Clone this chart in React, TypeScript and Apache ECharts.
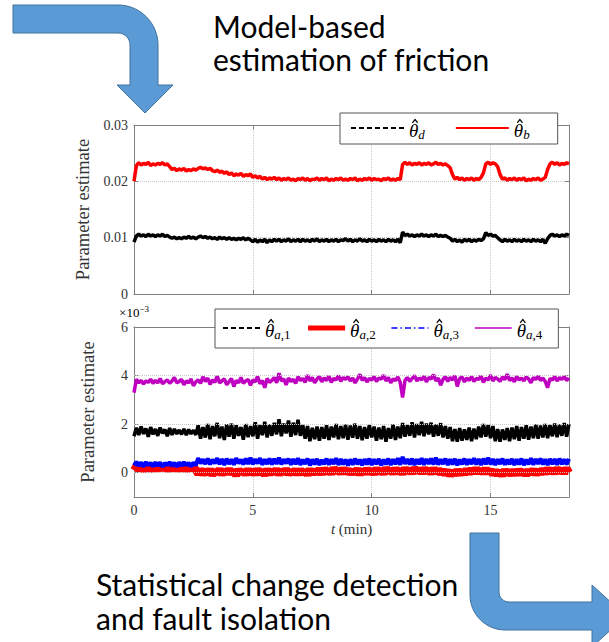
import React, { useEffect, useRef } from 'react';
import * as echarts from 'echarts';

// sampling step of the time axis (min) and axis ranges
const T_STEP = 0.1;
const T_MAX = 18.3;
const Y1_MIN = 0;
const Y1_MAX = 0.03;
const Y1_STEP = 0.01;
const Y2_MIN = -1;
const Y2_MAX = 6;
const Y2_TICKS = [0, 2, 4, 6];
const Y2_GRID = [0, 2, 4];
const X_STEP = 5;

// upper panel: θd (black) and θb (red)
const THETA_B = [
  0.0200, 0.0228, 0.0233, 0.0229, 0.0232, 0.0230, 0.0234, 0.0228, 0.0231, 0.0229,
  0.0232, 0.0230, 0.0233, 0.0229, 0.0231, 0.0226, 0.0221, 0.0223, 0.0219, 0.0222,
  0.0220, 0.0223, 0.0218, 0.0221, 0.0219, 0.0222, 0.0220, 0.0223, 0.0225, 0.0222,
  0.0224, 0.0221, 0.0223, 0.0219, 0.0217, 0.0220, 0.0216, 0.0218, 0.0214, 0.0217,
  0.0212, 0.0215, 0.0210, 0.0213, 0.0211, 0.0214, 0.0209, 0.0212, 0.0210, 0.0213,
  0.0207, 0.0210, 0.0206, 0.0209, 0.0204, 0.0207, 0.0203, 0.0206, 0.0204, 0.0207,
  0.0203, 0.0206, 0.0202, 0.0205, 0.0203, 0.0206, 0.0202, 0.0204, 0.0201, 0.0205,
  0.0203, 0.0206, 0.0202, 0.0205, 0.0201, 0.0204, 0.0203, 0.0206, 0.0202, 0.0205,
  0.0203, 0.0206, 0.0201, 0.0204, 0.0202, 0.0205, 0.0203, 0.0206, 0.0202, 0.0204,
  0.0202, 0.0205, 0.0203, 0.0206, 0.0201, 0.0204, 0.0202, 0.0205, 0.0203, 0.0206,
  0.0202, 0.0205, 0.0203, 0.0204, 0.0201, 0.0205, 0.0203, 0.0206, 0.0202, 0.0204,
  0.0202, 0.0205, 0.0203, 0.0230, 0.0234, 0.0230, 0.0233, 0.0229, 0.0232, 0.0230,
  0.0233, 0.0229, 0.0232, 0.0230, 0.0233, 0.0229, 0.0231, 0.0234, 0.0230, 0.0232,
  0.0229, 0.0231, 0.0228, 0.0224, 0.0212, 0.0204, 0.0207, 0.0203, 0.0206, 0.0202,
  0.0205, 0.0203, 0.0206, 0.0202, 0.0205, 0.0203, 0.0207, 0.0215, 0.0231, 0.0234,
  0.0230, 0.0233, 0.0231, 0.0226, 0.0212, 0.0204, 0.0206, 0.0202, 0.0205, 0.0203,
  0.0206, 0.0202, 0.0205, 0.0203, 0.0206, 0.0201, 0.0204, 0.0202, 0.0205, 0.0203,
  0.0206, 0.0202, 0.0204, 0.0207, 0.0221, 0.0231, 0.0234, 0.0230, 0.0233, 0.0229,
  0.0232, 0.0230, 0.0233, 0.0231,
];

const THETA_D = [
  0.0092, 0.0103, 0.0106, 0.0103, 0.0105, 0.0102, 0.0106, 0.0103, 0.0105, 0.0102,
  0.0105, 0.0103, 0.0106, 0.0102, 0.0104, 0.0101, 0.0099, 0.0101, 0.0098, 0.0100,
  0.0098, 0.0101, 0.0099, 0.0102, 0.0099, 0.0101, 0.0098, 0.0101, 0.0103, 0.0100,
  0.0102, 0.0099, 0.0101, 0.0098, 0.0100, 0.0097, 0.0101, 0.0098, 0.0100, 0.0097,
  0.0100, 0.0097, 0.0099, 0.0096, 0.0099, 0.0097, 0.0100, 0.0096, 0.0099, 0.0096,
  0.0093, 0.0097, 0.0092, 0.0096, 0.0093, 0.0097, 0.0091, 0.0096, 0.0093, 0.0097,
  0.0094, 0.0097, 0.0093, 0.0096, 0.0094, 0.0098, 0.0093, 0.0096, 0.0094, 0.0097,
  0.0093, 0.0097, 0.0094, 0.0096, 0.0093, 0.0097, 0.0094, 0.0098, 0.0093, 0.0096,
  0.0094, 0.0097, 0.0093, 0.0096, 0.0094, 0.0097, 0.0093, 0.0096, 0.0095, 0.0098,
  0.0094, 0.0097, 0.0093, 0.0096, 0.0094, 0.0098, 0.0094, 0.0096, 0.0093, 0.0097,
  0.0094, 0.0096, 0.0093, 0.0097, 0.0094, 0.0096, 0.0093, 0.0097, 0.0094, 0.0096,
  0.0093, 0.0097, 0.0091, 0.0110, 0.0104, 0.0106, 0.0103, 0.0105, 0.0102, 0.0105,
  0.0103, 0.0106, 0.0103, 0.0105, 0.0102, 0.0105, 0.0103, 0.0106, 0.0102, 0.0104,
  0.0102, 0.0104, 0.0101, 0.0099, 0.0094, 0.0097, 0.0093, 0.0096, 0.0092, 0.0097,
  0.0094, 0.0097, 0.0093, 0.0096, 0.0094, 0.0097, 0.0095, 0.0098, 0.0109, 0.0104,
  0.0106, 0.0103, 0.0104, 0.0100, 0.0096, 0.0093, 0.0097, 0.0094, 0.0096, 0.0093,
  0.0097, 0.0094, 0.0096, 0.0093, 0.0097, 0.0094, 0.0096, 0.0093, 0.0097, 0.0094,
  0.0096, 0.0093, 0.0097, 0.0090, 0.0098, 0.0104, 0.0106, 0.0103, 0.0105, 0.0102,
  0.0105, 0.0103, 0.0106, 0.0104,
];

// lower panel (×10^-3)
const THETA_A1 = [
  1.50, 1.85, 1.55, 1.90, 1.60, 1.82, 1.48, 1.88, 1.58, 1.80,
  1.52, 1.86, 1.62, 1.78, 1.50, 1.84, 1.56, 1.80, 1.60, 1.76,
  1.58, 1.80, 1.55, 1.78, 1.60, 1.75, 1.56, 1.95, 1.40, 1.88,
  1.45, 2.00, 1.38, 1.92, 1.50, 2.05, 1.42, 1.90, 1.35, 1.98,
  1.48, 2.02, 1.40, 1.95, 1.52, 1.88, 1.36, 2.00, 1.46, 1.92,
  1.50, 2.08, 1.40, 1.96, 1.55, 2.10, 1.45, 1.98, 1.52, 2.05,
  1.58, 2.20, 1.50, 2.02, 1.62, 2.15, 1.48, 2.06, 1.55, 2.18,
  1.52, 1.96, 1.40, 1.92, 1.30, 1.85, 1.38, 1.90, 1.32, 1.88,
  1.40, 1.95, 1.35, 1.90, 1.45, 2.00, 1.38, 1.92, 1.42, 1.98,
  1.36, 1.94, 1.44, 2.02, 1.40, 1.92, 1.34, 1.88, 1.40, 1.96,
  1.45, 1.90, 1.32, 1.86, 1.38, 1.92, 1.28, 1.84, 1.40, 1.98,
  1.35, 1.90, 1.42, 2.05, 1.48, 1.96, 1.52, 2.08, 1.45, 2.00,
  1.55, 2.10, 1.50, 2.02, 1.58, 2.06, 1.48, 1.98, 1.52, 2.04,
  1.45, 1.92, 1.40, 1.88, 1.30, 1.80, 1.28, 1.84, 1.32, 1.78,
  1.35, 1.86, 1.30, 1.82, 1.38, 1.90, 1.45, 2.00, 1.48, 1.96,
  1.42, 1.92, 1.30, 1.80, 1.28, 1.78, 1.35, 1.84, 1.30, 1.86,
  1.38, 1.92, 1.32, 1.88, 1.40, 1.95, 1.36, 1.90, 1.42, 1.98,
  1.40, 1.94, 1.45, 2.00, 1.42, 1.96, 1.50, 2.02, 1.46, 1.98,
  1.52, 2.04, 1.48, 2.00,
];

const THETA_A2 = [
  0.10, 0.26, 0.12, 0.24, 0.08, 0.25, 0.14, 0.22, 0.10, 0.26,
  0.12, 0.24, 0.15, 0.28, 0.10, 0.22, 0.14, 0.26, 0.11, 0.24,
  0.13, 0.25, 0.10, 0.22, 0.14, 0.26, 0.12, -0.05, 0.15, -0.08,
  0.12, -0.06, 0.14, -0.10, 0.10, -0.04, 0.15, -0.08, 0.12, -0.05,
  0.16, -0.06, 0.12, -0.12, 0.14, -0.04, 0.10, -0.08, 0.15, -0.06,
  0.12, -0.08, 0.15, -0.05, 0.10, -0.10, 0.14, -0.06, 0.11, -0.04,
  0.15, -0.08, 0.12, -0.05, 0.16, -0.07, 0.10, -0.04, 0.13, -0.08,
  0.14, -0.05, 0.11, -0.09, 0.15, -0.06, 0.12, -0.04, 0.16, -0.07,
  0.18, -0.02, 0.15, -0.05, 0.20, 0.00, 0.16, -0.04, 0.18, -0.02,
  0.15, -0.06, 0.12, -0.04, 0.16, -0.08, 0.13, -0.05, 0.17, -0.03,
  0.14, -0.06, 0.18, -0.02, 0.15, -0.05, 0.20, 0.00, 0.16, -0.04,
  0.18, -0.02, 0.15, -0.05, 0.19, 0.00, 0.16, -0.03, 0.20, 0.01,
  0.17, -0.02, 0.19, 0.00, 0.16, -0.04, 0.18, -0.01, 0.15, -0.05,
  0.12, -0.08, 0.10, -0.12, 0.08, -0.10, 0.12, -0.08, 0.10, -0.06,
  0.14, -0.04, 0.16, -0.02, 0.18, 0.00, 0.15, -0.03, 0.17, -0.02,
  0.12, -0.08, 0.10, -0.10, 0.08, -0.12, 0.12, -0.08, 0.10, -0.10,
  0.11, -0.09, 0.13, -0.07, 0.10, -0.11, 0.12, -0.06, 0.14, -0.08,
  0.12, -0.05, 0.15, -0.04, 0.18, -0.02, 0.16, -0.03, 0.19, 0.00,
  0.16, -0.02, 0.18, 0.00,
];

const THETA_A3 = [
  0.30, 0.45, 0.28, 0.42, 0.25, 0.44, 0.30, 0.40, 0.26, 0.43,
  0.28, 0.42, 0.24, 0.40, 0.30, 0.44, 0.27, 0.41, 0.25, 0.42,
  0.28, 0.44, 0.30, 0.40, 0.26, 0.42, 0.30, 0.60, 0.38, 0.55,
  0.36, 0.58, 0.34, 0.54, 0.38, 0.60, 0.35, 0.56, 0.32, 0.58,
  0.36, 0.55, 0.33, 0.60, 0.38, 0.54, 0.34, 0.58, 0.36, 0.62,
  0.35, 0.56, 0.38, 0.60, 0.33, 0.55, 0.36, 0.58, 0.34, 0.57,
  0.36, 0.62, 0.34, 0.55, 0.38, 0.58, 0.33, 0.56, 0.35, 0.60,
  0.32, 0.54, 0.36, 0.58, 0.30, 0.55, 0.34, 0.57, 0.32, 0.53,
  0.35, 0.58, 0.33, 0.55, 0.36, 0.60, 0.32, 0.56, 0.34, 0.54,
  0.30, 0.55, 0.33, 0.58, 0.35, 0.54, 0.31, 0.56, 0.34, 0.58,
  0.32, 0.55, 0.35, 0.57, 0.30, 0.54, 0.34, 0.58, 0.32, 0.55,
  0.35, 0.60, 0.33, 0.65, 0.36, 0.56, 0.34, 0.58, 0.32, 0.55,
  0.35, 0.60, 0.33, 0.56, 0.36, 0.58, 0.34, 0.62, 0.33, 0.55,
  0.36, 0.58, 0.32, 0.55, 0.34, 0.57, 0.31, 0.54, 0.35, 0.58,
  0.33, 0.55, 0.36, 0.60, 0.34, 0.56, 0.32, 0.58, 0.35, 0.62,
  0.34, 0.56, 0.32, 0.55, 0.36, 0.58, 0.33, 0.54, 0.35, 0.57,
  0.32, 0.55, 0.34, 0.58, 0.31, 0.54, 0.35, 0.60, 0.33, 0.56,
  0.36, 0.58, 0.34, 0.55, 0.32, 0.57, 0.35, 0.56, 0.33, 0.58,
  0.35, 0.55, 0.34, 0.57,
];

const THETA_A4 = [
  3.30, 3.85, 3.70, 3.80, 3.65, 3.78, 3.72, 3.85, 3.68, 3.80,
  3.70, 3.88, 3.66, 3.75, 3.82, 3.68, 3.78, 3.92, 3.70, 3.76,
  3.84, 3.62, 3.78, 3.70, 3.86, 3.58, 3.74, 3.82, 3.68, 3.95,
  3.76, 3.90, 3.64, 3.82, 3.72, 3.98, 3.70, 3.78, 3.86, 3.62,
  3.75, 3.88, 3.55, 3.80, 3.70, 3.92, 3.68, 3.78, 3.84, 3.60,
  3.82, 3.74, 3.96, 3.66, 3.80, 3.50, 3.88, 3.72, 3.80, 3.92,
  3.70, 4.10, 3.78, 3.86, 3.62, 3.90, 3.76, 3.84, 3.68, 3.95,
  3.80, 3.88, 3.72, 4.02, 3.78, 3.92, 3.70, 3.86, 3.96, 3.74,
  3.90, 3.80, 3.98, 3.72, 3.88, 3.82, 4.00, 3.76, 3.92, 3.84,
  3.95, 3.78, 3.90, 3.70, 3.86, 4.05, 3.80, 3.92, 3.74, 3.88,
  3.82, 3.96, 3.76, 3.90, 3.85, 4.02, 3.78, 3.92, 3.70, 3.86,
  3.80, 3.94, 3.72, 3.10, 3.80, 3.92, 3.76, 3.88, 4.00, 3.78,
  3.90, 3.82, 3.98, 3.74, 3.92, 3.86, 4.04, 3.78, 3.90, 3.60,
  3.84, 3.96, 3.76, 3.92, 3.82, 4.00, 3.55, 3.88, 3.94, 3.74,
  3.90, 3.80, 3.96, 3.76, 3.88, 3.84, 3.98, 3.72, 3.90, 3.82,
  4.02, 3.78, 3.92, 3.86, 3.76, 3.94, 3.84, 4.06, 3.80, 3.90,
  3.74, 3.96, 3.82, 3.90, 3.78, 3.94, 3.86, 3.70, 3.92, 3.84,
  3.98, 3.80, 3.90, 3.76, 3.50, 3.88, 3.82, 3.96, 3.78, 3.92,
  3.84, 3.96, 3.80, 3.90,
];

// θ carries its hat as the token's background picture
const LEGEND_LABELS: Record<string, string> = {
  thd: '{t|θ}{s|d}',
  thb: '{t|θ}{s|b}',
  tha1: '{t|θ}{s|a}{n|,1}',
  tha2: '{t|θ}{s|a}{n|,2}',
  tha3: '{t|θ}{s|a}{n|,3}',
  tha4: '{t|θ}{s|a}{n|,4}',
};

const TOP_TEXT = 'Model-based\nestimation of friction';
const BOTTOM_TEXT = 'Statistical change detection\nand fault isolation';

const ARROW_TL =
  'M13 5 L118 5 C140.1 5 158 22.9 158 45 L158 85 L173 85 L145 113 L117 85 L130 85 L130 45 C130 38.4 124.6 33 118 33 L13 33 Z';
const ARROW_BR =
  'M470 533 L499 533 L499 592 C499 597.5 503.5 602 509 602 L592 602 L592 585 L626 616 L592 647 L592 630 L505 630 C485.7 630 470 614.3 470 595 Z';

const HAT_IMG =
  'data:image/svg+xml;charset=utf-8,' +
  encodeURIComponent(
    "<svg xmlns='http://www.w3.org/2000/svg' width='10' height='24' viewBox='0 0 10 24' preserveAspectRatio='none'>" +
      "<path d='M3.6 6.9 L6.5 3.6 L9.3 6.9' fill='none' stroke='#000' stroke-width='1.3'/></svg>"
  );

let registered = false;
function registerShapes() {
  if (registered) return;
  echarts.graphic.registerShape('arrowTL', echarts.graphic.extendPath(ARROW_TL, {}));
  echarts.graphic.registerShape('arrowBR', echarts.graphic.extendPath(ARROW_BR, {}));
  registered = true;
}

const pairs = (vals: number[]) => vals.map((v, i) => [Math.round(i * T_STEP * 10) / 10, v]);

const SERIF = 'Liberation Serif';
const AXIS_COLOR = '#808080';
const LABEL_COLOR = '#333';
const GRID_COLOR = '#c8c8c8';

const RICH = {
  t: {
    fontFamily: SERIF,
    fontStyle: 'italic',
    fontSize: 19,
    lineHeight: 24,
    padding: [5, 0, 0, 0],
    backgroundColor: { image: HAT_IMG },
    color: '#000',
  },
  s: {
    fontFamily: SERIF,
    fontStyle: 'italic',
    fontSize: 13,
    lineHeight: 12,
    verticalAlign: 'bottom',
    padding: [0, 0, -1, 0],
    color: '#000',
  },
  n: { fontFamily: SERIF, fontSize: 13, lineHeight: 12, verticalAlign: 'bottom', padding: [0, 0, -1, 0], color: '#000' },
};

function xAxisDef(gridIndex: number, position: string, showLabel: boolean, withName: boolean) {
  return {
    type: 'value',
    gridIndex,
    position,
    min: 0,
    max: T_MAX,
    interval: X_STEP,
    name: withName ? '{i|t} (min)' : '',
    nameLocation: 'middle',
    nameGap: 24,
    nameTextStyle: {
      fontFamily: SERIF,
      fontSize: 15,
      color: LABEL_COLOR,
      rich: { i: { fontFamily: SERIF, fontStyle: 'italic', fontSize: 15, color: LABEL_COLOR } },
    },
    axisLine: { show: true, onZero: false, lineStyle: { color: AXIS_COLOR, width: 1 } },
    axisTick: { show: true, inside: true, length: 4, lineStyle: { color: AXIS_COLOR } },
    axisLabel: {
      show: showLabel,
      showMaxLabel: false,
      color: LABEL_COLOR,
      fontFamily: SERIF,
      fontSize: 14,
      margin: 6,
    },
    splitLine: { show: position === 'bottom', lineStyle: { type: 'dotted', color: GRID_COLOR, width: 1 } },
  };
}

export default function App() {
  const ref = useRef<HTMLDivElement>(null);

  useEffect(() => {
    if (!ref.current) return;
    registerShapes();
    const chart = echarts.init(ref.current, null, { renderer: 'svg' });

    const lineSeries = (
      name: string,
      vals: number[],
      panel: number,
      color: string,
      width: number,
      extra: any = {}
    ) => ({
      name,
      type: 'line',
      xAxisIndex: panel === 0 ? 0 : 2,
      yAxisIndex: panel === 0 ? 0 : 2,
      data: pairs(vals),
      symbol: 'none',
      showSymbol: false,
      silent: true,
      lineStyle: { color, width, join: 'bevel' },
      itemStyle: { color },
      ...extra,
    });

    const legendCommon = {
      orient: 'horizontal',
      itemHeight: 14,
      borderColor: '#555',
      borderWidth: 1,
      backgroundColor: '#fff',
      selectedMode: false,
      itemStyle: { opacity: 0 },
      formatter: (n: string) => LEGEND_LABELS[n],
      textStyle: { rich: RICH },
      z: 10,
    };

    const yLeft = (gridIndex: number, min: number, max: number, extra: any) => ({
      type: 'value',
      gridIndex,
      position: 'left',
      min,
      max,
      name: 'Parameter estimate',
      nameLocation: 'middle',
      nameGap: 37,
      nameTextStyle: { fontFamily: SERIF, fontSize: 18.5, color: LABEL_COLOR },
      axisLine: { show: true, onZero: false, lineStyle: { color: AXIS_COLOR } },
      axisTick: { show: true, inside: true, length: 4, lineStyle: { color: AXIS_COLOR } },
      axisLabel: { color: LABEL_COLOR, fontFamily: SERIF, fontSize: 14, margin: 6 },
      ...extra,
    });

    const yRight = (gridIndex: number, min: number, max: number, extra: any) => ({
      type: 'value',
      gridIndex,
      position: 'right',
      min,
      max,
      axisLine: { show: true, onZero: false, lineStyle: { color: AXIS_COLOR } },
      axisTick: { show: true, inside: true, length: 4, lineStyle: { color: AXIS_COLOR } },
      axisLabel: { show: false },
      splitLine: { show: false },
      ...extra,
    });

    const option: any = {
      animation: false,
      backgroundColor: '#fff',
      textStyle: { fontFamily: SERIF },
      grid: [
        { left: 134, top: 125, width: 435, height: 169 },
        { left: 134, top: 327, width: 435, height: 170 },
      ],
      xAxis: [
        xAxisDef(0, 'bottom', false, false),
        xAxisDef(0, 'top', false, false),
        xAxisDef(1, 'bottom', true, true),
        xAxisDef(1, 'top', false, false),
      ],
      yAxis: [
        yLeft(0, Y1_MIN, Y1_MAX, {
          interval: Y1_STEP,
          splitLine: { show: true, lineStyle: { type: 'dotted', color: GRID_COLOR } },
        }),
        yRight(0, Y1_MIN, Y1_MAX, { interval: Y1_STEP }),
        yLeft(1, Y2_MIN, Y2_MAX, {
          axisTick: { show: true, inside: true, length: 4, customValues: Y2_TICKS, lineStyle: { color: AXIS_COLOR } },
          axisLabel: { color: LABEL_COLOR, fontFamily: SERIF, fontSize: 14, margin: 6, customValues: Y2_TICKS },
          splitLine: { show: false },
        }),
        yRight(1, Y2_MIN, Y2_MAX, {
          axisTick: { show: true, inside: true, length: 4, customValues: Y2_TICKS, lineStyle: { color: AXIS_COLOR } },
        }),
      ],
      legend: [
        {
          ...legendCommon,
          data: [
            { name: 'thd', lineStyle: { color: '#000', width: 2, type: [5, 3] } },
            { name: 'thb', lineStyle: { color: '#ff0000', width: 2, type: 'solid' } },
          ],
          left: 340,
          top: 113,
          itemWidth: 53,
          itemGap: 30,
          padding: [3, 28, 3, 10],
        },
        {
          ...legendCommon,
          data: [
            { name: 'tha1', lineStyle: { color: '#000', width: 2, type: [5, 3] } },
            { name: 'tha2', lineStyle: { color: '#ff0000', width: 5, type: 'solid' } },
            { name: 'tha3', lineStyle: { color: '#0000ff', width: 1.5, type: [6, 3, 1.5, 3] } },
            { name: 'tha4', lineStyle: { color: '#c000c0', width: 1.5, type: 'solid' } },
          ],
          left: 215,
          top: 309,
          itemWidth: 37,
          itemGap: 15,
          padding: [7, 16, 7, 7],
        },
      ],
      series: [
        lineSeries('thd', THETA_D, 0, '#000', 3.5),
        lineSeries('thb', THETA_B, 0, '#ff0000', 3.5),
        lineSeries('tha1', THETA_A1, 1, '#000', 3.5, {
          markLine: {
            silent: true,
            symbol: 'none',
            label: { show: false },
            lineStyle: { type: 'dotted', color: GRID_COLOR, width: 1 },
            data: Y2_GRID.map((v) => ({ yAxis: v })),
          },
        }),
        lineSeries('tha2', THETA_A2, 1, '#ff0000', 8),
        lineSeries('tha3', THETA_A3, 1, '#0000ff', 4),
        lineSeries('tha4', THETA_A4, 1, '#c000c0', 3.5),
      ],
      graphic: [
        {
          type: 'arrowTL',
          x: 0,
          y: 0,
          style: { fill: '#5b9bd5', stroke: '#41719c', lineWidth: 1 },
          z: 1,
        },
        {
          type: 'arrowBR',
          x: 0,
          y: 0,
          style: { fill: '#5b9bd5', stroke: '#41719c', lineWidth: 1 },
          z: 1,
        },
        {
          type: 'text',
          x: 213,
          y: 9,
          style: {
            text: TOP_TEXT,
            font: '30px Lato',
            fill: '#000',
            lineHeight: 33,
            align: 'left',
            verticalAlign: 'top',
          },
        },
        {
          type: 'text',
          x: 96,
          y: 567,
          style: {
            text: BOTTOM_TEXT,
            font: '30px Lato',
            fill: '#000',
            lineHeight: 34,
            align: 'left',
            verticalAlign: 'top',
          },
        },
        {
          type: 'text',
          x: 134,
          y: 312,
          style: {
            text: '{a|×10}{b|−3}',
            align: 'center',
            verticalAlign: 'middle',
            rich: {
              a: { fontFamily: SERIF, fontSize: 13, lineHeight: 16, color: LABEL_COLOR },
              b: { fontFamily: SERIF, fontSize: 9, lineHeight: 9, verticalAlign: 'top', color: LABEL_COLOR },
            },
          },
        },
      ],
    };

    chart.setOption(option);
    return () => chart.dispose();
  }, []);

  return (
    <div
      ref={ref}
      style={{ position: 'absolute', left: 0, top: 0, width: 609, height: 642, background: '#fff' }}
    />
  );
}
